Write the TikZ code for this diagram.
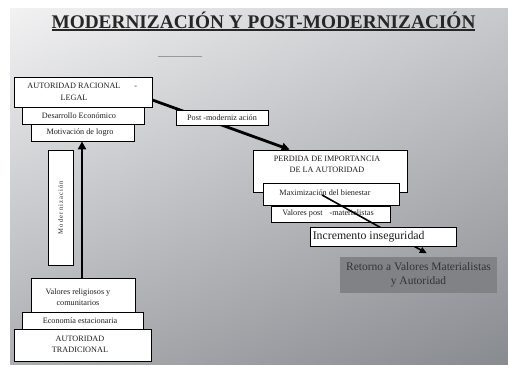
\documentclass[tikz,border=0pt]{standalone}
\usepackage{fontspec}
\setmainfont{Liberation Serif}
\usetikzlibrary{arrows.meta,shadows,calc,shadings}
\definecolor{bgul}{RGB}{242,242,243}
\definecolor{bgur}{RGB}{200,201,204}
\definecolor{bgll}{RGB}{172,174,178}
\definecolor{bglr}{RGB}{136,139,144}
\definecolor{retfill}{RGB}{128,130,134}
\definecolor{txt}{RGB}{30,30,30}
\begin{document}
\begin{tikzpicture}[x=1pt,y=-1pt,
  bx/.style={draw=black, line width=0.8pt, fill=white, inner sep=0pt,
    font=\fontsize{8.2}{11}\selectfont, text=txt, align=center},
  lbl/.style={font=\fontsize{8.2}{11}\selectfont, text=txt, align=center, inner sep=0pt},
  shd/.style={general shadow={fill=black, shadow xshift=0.9pt, shadow yshift=-0.9pt}},
  thickarrow/.style={line width=2.8pt, -{Triangle[length=8pt,width=8pt]}},
  thinarrow/.style={line width=1.6pt, -{Triangle[length=7pt,width=6pt]}},
]
\useasboundingbox (0,0) rectangle (508,364);
\shade[upper left=bgul, upper right=bgur, lower left=bgll, lower right=bglr] (10,8) rectangle (508,364);

% title
\node[font=\fontsize{19.3}{22}\selectfont\bfseries, text=black!85, inner sep=0pt] (title) at (263.5,20) {MODERNIZACIÓN Y POST-MODERNIZACIÓN};
\draw[line width=2pt, black!85] (52,29.5) -- (475,29.5);
\draw[line width=0.6pt, black!40] (158,56) -- (202,56);

% left top stack
\node[bx, shd, minimum width=138pt, minimum height=30pt] (arl) at (83,92) {};
\node[lbl, font=\fontsize{8.2}{12}\selectfont] (arltxt) at (74,91.5) {AUTORIDAD RACIONAL\rlap{\hspace{14pt}-}\\LEGAL};
\node[bx, shd, minimum width=122pt, minimum height=17pt] (des) at (83,115.5) {};
\node[lbl] (destxt) at (79,115.5) {Desarrollo Económico};
\node[bx, shd, minimum width=103pt, minimum height=17pt] (mot) at (82.5,132.5) {};
\node[lbl] (mottxt) at (80,132.5) {Motivación de logro};

% right stack top box (named before the arrow that reaches it)
\node[bx, shd, minimum width=154pt, minimum height=42pt] (per) at (330,171) {};
% post-modernization arrow
\draw[thickarrow] ($(arl.east)+(0,8)$) -- ($(per.north west)+(37,0)$);
\node[bx, shd, minimum width=92pt, minimum height=15pt] (post) at (222,117.5) {Post -moderniz ación};

\node[lbl] (pertxt) at (327,164.5) {PERDIDA DE IMPORTANCIA\\DE LA AUTORIDAD};
\node[bx, shd, minimum width=136pt, minimum height=22pt] (max) at (331,194.5) {};
\node[lbl] (maxtxt) at (325,192.5) {Maximización del bienestar};
\node[bx, shd, minimum width=119pt, minimum height=16pt] (vpm) at (330.5,214) {};
\node[lbl] (vpmtxt) at (328,214) {Valores post\hspace{7pt}-materialistas};
\coordinate (ls) at (322,195);
\node[fill=retfill, inner sep=0pt, minimum width=157pt, minimum height=36pt, font=\fontsize{11.5}{14}\selectfont, text=black!80, align=center] (ret) at (418.5,274.5) {Retorno a Valores Materialistas\\y Autoridad};
\draw[thinarrow] (ls) -- ($(ret.north west)+(87,-3)$);
\node[bx, minimum width=146pt, minimum height=19pt] (inc) at (383,236.5) {};
\node[lbl, font=\fontsize{11.8}{13}\selectfont, anchor=west] (inctxt) at ($(inc.west)+(3,0)$) {Incremento inseguridad};

% modernization
\node[bx, shd, minimum width=25pt, minimum height=115pt] (mod) at (60.5,207.5) {};
\node[rotate=90, font=\fontsize{6.6}{7}\selectfont, text=txt, inner sep=0pt] (modtxt) at (mod.center) {M\,o\,d\,e\,r\,n\,i\,z\,a\,c\,i\,ó\,n};

% bottom stack
\node[bx, shd, minimum width=104pt, minimum height=34pt] (vrc) at (83,295) {};
\node[lbl] (vrctxt) at (78,297) {Valores religiosos y\\comunitarios};
\node[bx, shd, minimum width=121pt, minimum height=17pt] (eco) at (82.5,320.5) {};
\node[lbl] (ecotxt) at (80,320.5) {Economía estacionaria};
\node[bx, shd, minimum width=137pt, minimum height=32pt] (atr) at (82.5,345) {};
\node[lbl] (atrtxt) at (80,344.5) {AUTORIDAD\\TRADICIONAL};

\draw[thickarrow] (vrc.north -| 82,0) -- (mot.south -| 82,0);
\end{tikzpicture}
\end{document}
